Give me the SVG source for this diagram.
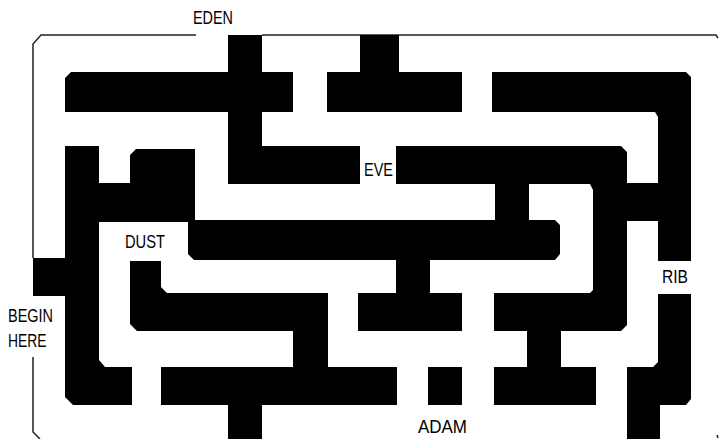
<svg xmlns="http://www.w3.org/2000/svg" width="719" height="439" viewBox="0 0 719 439">
<style>
.w{fill:#000;stroke:none}
.b{fill:none;stroke:#222;stroke-width:1.5}
.t{font-family:"Liberation Sans",Arial,sans-serif;font-size:18px;fill:#000}
</style>
<rect width="719" height="439" fill="#fff"/>
<g id="border">
<path class="b" d="M196,35 H41 L33,44 V258"/>
<path class="b" d="M33,357 V432 L40,439"/>
<path class="b" d="M262,35 H716 L718,38"/>
<path class="b" d="M717,435 L718,438"/>
</g>
<g id="walls">
<polygon id="wallA" class="w" points="228,35 262,35 262,72 293,72 293,112 262,112 262,146 360,146 360,184 228,184 228,112 65,112 65,78 71,72 228,72"/>
<polygon id="wallB" class="w" points="360,35 399,35 399,72 462,72 462,112 327,112 327,72 360,72"/>
<polygon id="wallC" class="w" points="492,72 686,72 691,77 691,261 658,261 658,117 655,112 492,112"/>
<rect id="wallC2" class="w" x="593" y="183" width="65" height="38"/>
<polygon id="wallEve" class="w" points="396,146 621,146 627,152 627,325 621,331 561,331 561,367 596,367 596,405 494,405 494,367 527,367 527,331 494,331 494,293 590,293 593,290 593,190 590,184 529,184 529,220 495,220 495,184 396,184"/>
<polygon id="wallDust" class="w" points="188,220 555,220 560,225 560,254 555,260 430,260 430,293 462,293 462,331 358,331 358,293 396,293 396,260 194,260 188,254"/>
<polygon id="wallLeft" class="w" points="65,146 99,146 99,183 130,183 130,155 136,149 195,149 195,222 99,222 99,360 105,367 132,367 132,405 73,405 65,397"/>
<rect id="wallBegin" class="w" x="33" y="258" width="32" height="38"/>
<polygon id="wallL" class="w" points="130,261 161,261 161,287 167,293 328,293 328,367 293,367 293,331 137,331 130,324"/>
<polygon id="wallBottom" class="w" points="161,367 397,367 397,405 262,405 262,439 228,439 228,405 161,405"/>
<rect id="wallAdam" class="w" x="428" y="367" width="34" height="38"/>
<polygon id="wallRib" class="w" points="658,294 691,294 691,399 686,405 660,405 660,439 627,439 627,367 653,367 658,362"/>
</g>
<g id="labels">
<text class="t" x="193" y="24.3" textLength="40" lengthAdjust="spacingAndGlyphs">EDEN</text>
<text class="t" x="364" y="175.5" textLength="29" lengthAdjust="spacingAndGlyphs">EVE</text>
<text class="t" x="125" y="248" textLength="40" lengthAdjust="spacingAndGlyphs">DUST</text>
<text class="t" x="8" y="322" textLength="45" lengthAdjust="spacingAndGlyphs">BEGIN</text>
<text class="t" x="8" y="346.5" textLength="38.5" lengthAdjust="spacingAndGlyphs">HERE</text>
<text class="t" x="662" y="283.3" textLength="26" lengthAdjust="spacingAndGlyphs">RIB</text>
<text class="t" x="418" y="433" textLength="49" lengthAdjust="spacingAndGlyphs">ADAM</text>
</g>
</svg>
